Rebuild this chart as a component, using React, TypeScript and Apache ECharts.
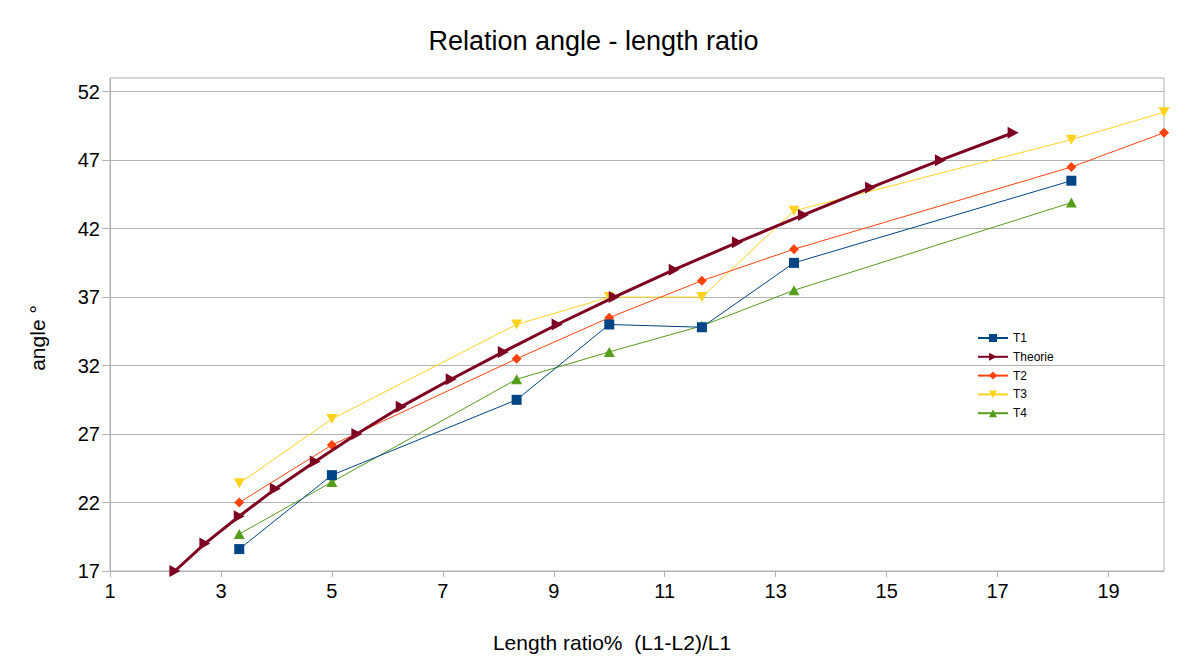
import React, { useEffect, useRef } from "react";
import * as echarts from "echarts";

const FONT = "'Liberation Sans', Arial, sans-serif";

const chartTitle = "Relation angle - length ratio";
const xAxisName = "Length ratio%  (L1-L2)/L1";
const yAxisName = "angle °";

const xTickValues = [1, 3, 5, 7, 9, 11, 13, 15, 17, 19];
const yTickValues = [17, 22, 27, 32, 37, 42, 47, 52];

const ratioT = [3.33, 5, 8.33, 10, 11.67, 13.33, 18.33, 20];
const t1 = [18.6, 24.0, 29.5, 35.0, 34.8, 39.5, 45.5];
const t2 = [22.0, 26.2, 32.5, 35.5, 38.2, 40.5, 46.5, 49.0];
const t3 = [23.4, 28.1, 35.0, 37.0, 37.0, 43.3, 48.5, 50.5];
const t4 = [19.7, 23.5, 31.0, 33.0, 34.9, 37.5, 43.9];

const ratioTheory = [2.17, 2.71, 3.33, 3.98, 4.7, 5.45, 6.25, 7.15, 8.09, 9.06, 10.09, 11.17, 12.31, 13.5, 14.71, 15.97, 17.28];
const angleTheory = [17, 19, 21, 23, 25, 27, 29, 31, 33, 35, 37, 39, 41, 43, 45, 47, 49];

const pairs = (xs: number[], ys: number[]) => ys.map((y, i) => [xs[i], y]);

export default function App() {
  const ref = useRef<HTMLDivElement>(null);
  useEffect(() => {
    if (!ref.current) return;
    const chart = echarts.init(ref.current, undefined, { renderer: "svg" });
    const thin = (name: string, color: string, data: number[][], symbol: string, size: any, rotate: number, z: number) => ({
      name,
      type: "line",
      data,
      symbol,
      symbolSize: size,
      symbolRotate: rotate,
      showAllSymbol: true,
      z,
      lineStyle: { color, width: 1 },
      itemStyle: { color, borderWidth: 0 },
      emphasis: { disabled: true },
    });
    chart.setOption({
      animation: false,
      backgroundColor: "#ffffff",
      title: {
        text: chartTitle,
        left: "center",
        top: 22,
        textStyle: { fontSize: 27, fontWeight: "normal", color: "#000", fontFamily: FONT },
      },
      grid: {
        left: 110,
        right: 23,
        top: 78,
        bottom: 97,
        show: true,
        borderColor: "#b3b3b3",
        borderWidth: 1,
      },
      legend: {
        orient: "vertical",
        left: 977,
        top: 332,
        padding: 0,
        itemWidth: 30,
        itemHeight: 10,
        itemGap: 6.8,
        textStyle: { fontSize: 12, color: "#000", fontFamily: FONT },
        data: ["T1", "Theorie", "T2", "T3", "T4"],
      },
      xAxis: {
        type: "value",
        min: 1,
        max: 20,
        axisLine: { show: true, lineStyle: { color: "#b3b3b3" } },
        axisTick: { show: true, length: 6, lineStyle: { color: "#b3b3b3" }, customValues: xTickValues },
        axisLabel: { customValues: xTickValues, color: "#000", fontSize: 20, margin: 10, fontFamily: FONT },
        splitLine: { show: false },
      },
      yAxis: {
        type: "value",
        min: 17,
        max: 53,
        axisLine: { show: true, lineStyle: { color: "#b3b3b3" } },
        axisTick: { show: true, length: 8, lineStyle: { color: "#b3b3b3" }, customValues: yTickValues },
        axisLabel: { customValues: yTickValues, color: "#000", fontSize: 20, margin: 10, fontFamily: FONT },
        splitLine: { show: true, lineStyle: { color: "#b3b3b3", width: 1 } },
      },
      graphic: [
        {
          type: "text",
          x: 612,
          y: 642,
          style: { text: xAxisName, fontSize: 21, fill: "#000", fontFamily: FONT, textAlign: "center", textVerticalAlign: "middle" },
        },
        {
          type: "text",
          x: 37,
          y: 338,
          rotation: Math.PI / 2,
          style: { text: yAxisName, fontSize: 21, fill: "#000", fontFamily: FONT, textAlign: "center", textVerticalAlign: "middle" },
        },
      ],
      series: [
        thin("T1", "#004586", pairs(ratioT, t1), "rect", 10, 0, 5),
        {
          name: "Theorie",
          type: "line",
          data: pairs(ratioTheory, angleTheory),
          symbol: "triangle",
          symbolSize: [12, 11],
          symbolRotate: -90,
          showAllSymbol: true,
          z: 6,
          lineStyle: { color: "#7e0021", width: 3 },
          itemStyle: { color: "#7e0021", borderWidth: 0 },
          emphasis: { disabled: true },
        },
        thin("T2", "#ff420e", pairs(ratioT, t2), "diamond", [10, 10], 0, 4),
        thin("T3", "#ffd320", pairs(ratioT, t3), "triangle", [11, 10], 180, 3),
        thin("T4", "#579d1c", pairs(ratioT, t4), "triangle", [11, 10], 0, 2),
      ],
    });
    return () => chart.dispose();
  }, []);
  return <div ref={ref} style={{ position: "fixed", left: 0, top: 0, width: 1187, height: 668 }} />;
}
